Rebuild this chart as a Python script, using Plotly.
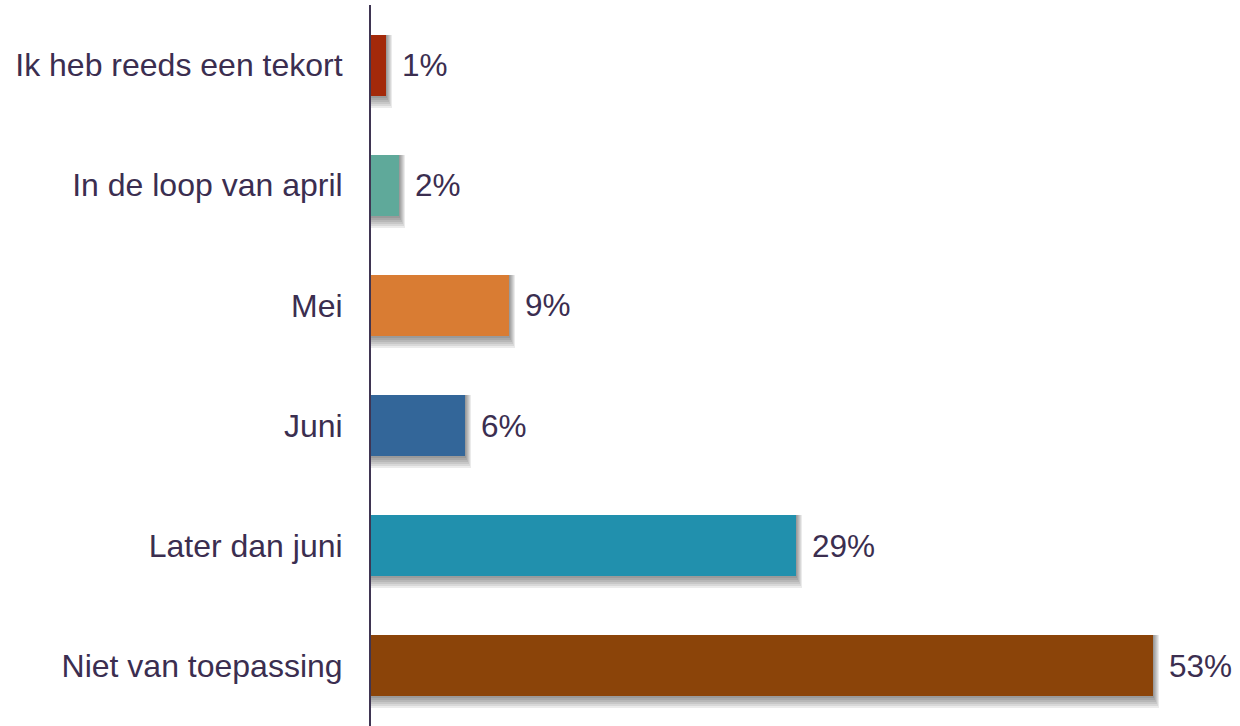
import plotly.graph_objects as go

categories = ["Ik heb reeds een tekort", "In de loop van april", "Mei", "Juni",
              "Later dan juni", "Niet van toepassing"]
values = [1.0, 1.9, 9.4, 6.4, 28.9, 53.2]
colors = ["#A3290A", "#5FA99A", "#D97C33", "#336699", "#2190AD", "#8B4409"]

TEXT = "#3B2E50"
pos = list(range(len(categories)))

W, H = 1240, 726
ml, mr, mt, mb = 371, 0, 5, 0
xmax = 59.1
ymin, ymax = -0.5, len(categories) - 0.5
px_x = (W - ml - mr) / xmax          # pixels per x unit
px_y = (H - mt - mb) / (ymax - ymin)  # pixels per y unit
bw = 0.508
FONT = "Liberation Sans, Arial, sans-serif"

fig = go.Figure()

# soft drop shadow built from several translucent layers
for d in [12, 10, 8, 6, 4, 2]:
    fig.add_trace(go.Bar(
        y=[p + (d / 2) / px_y for p in pos],
        x=[v + (d / 2) / px_x for v in values],
        base=0,
        orientation="h",
        width=bw + d / px_y,
        marker=dict(color="rgba(0,0,0,0.08)", line=dict(width=0)),
        hoverinfo="skip", showlegend=False,
    ))

fig.add_trace(go.Bar(
    y=pos, x=values, orientation="h", width=bw,
    marker=dict(color=colors, line=dict(width=0)),
    showlegend=False,
))

for p, v in zip(pos, values):
    fig.add_annotation(x=v, y=p, text=f"{v:.0f}%", showarrow=False,
                       xanchor="left", yanchor="middle", xshift=14,
                       font=dict(size=31.5, color=TEXT, family=FONT))

fig.update_layout(
    width=W, height=H,
    margin=dict(l=ml, r=mr, t=mt, b=mb),
    paper_bgcolor="white", plot_bgcolor="white",
    barmode="overlay", bargap=0,
    font=dict(family=FONT, size=32, color=TEXT),
    xaxis=dict(visible=False, range=[0, xmax], fixedrange=True),
    yaxis=dict(range=[ymax, ymin], tickmode="array", tickvals=pos, ticktext=categories,
               showline=True, linecolor="#3F3552", linewidth=2, fixedrange=True,
               showgrid=False, zeroline=False, ticks="", ticklabelstandoff=20,
               tickfont=dict(size=32, color=TEXT)),
)

fig.write_html("out.html", config={"displayModeBar": False},
               post_script="document.body.style.margin='0';document.body.style.overflow='hidden';")
